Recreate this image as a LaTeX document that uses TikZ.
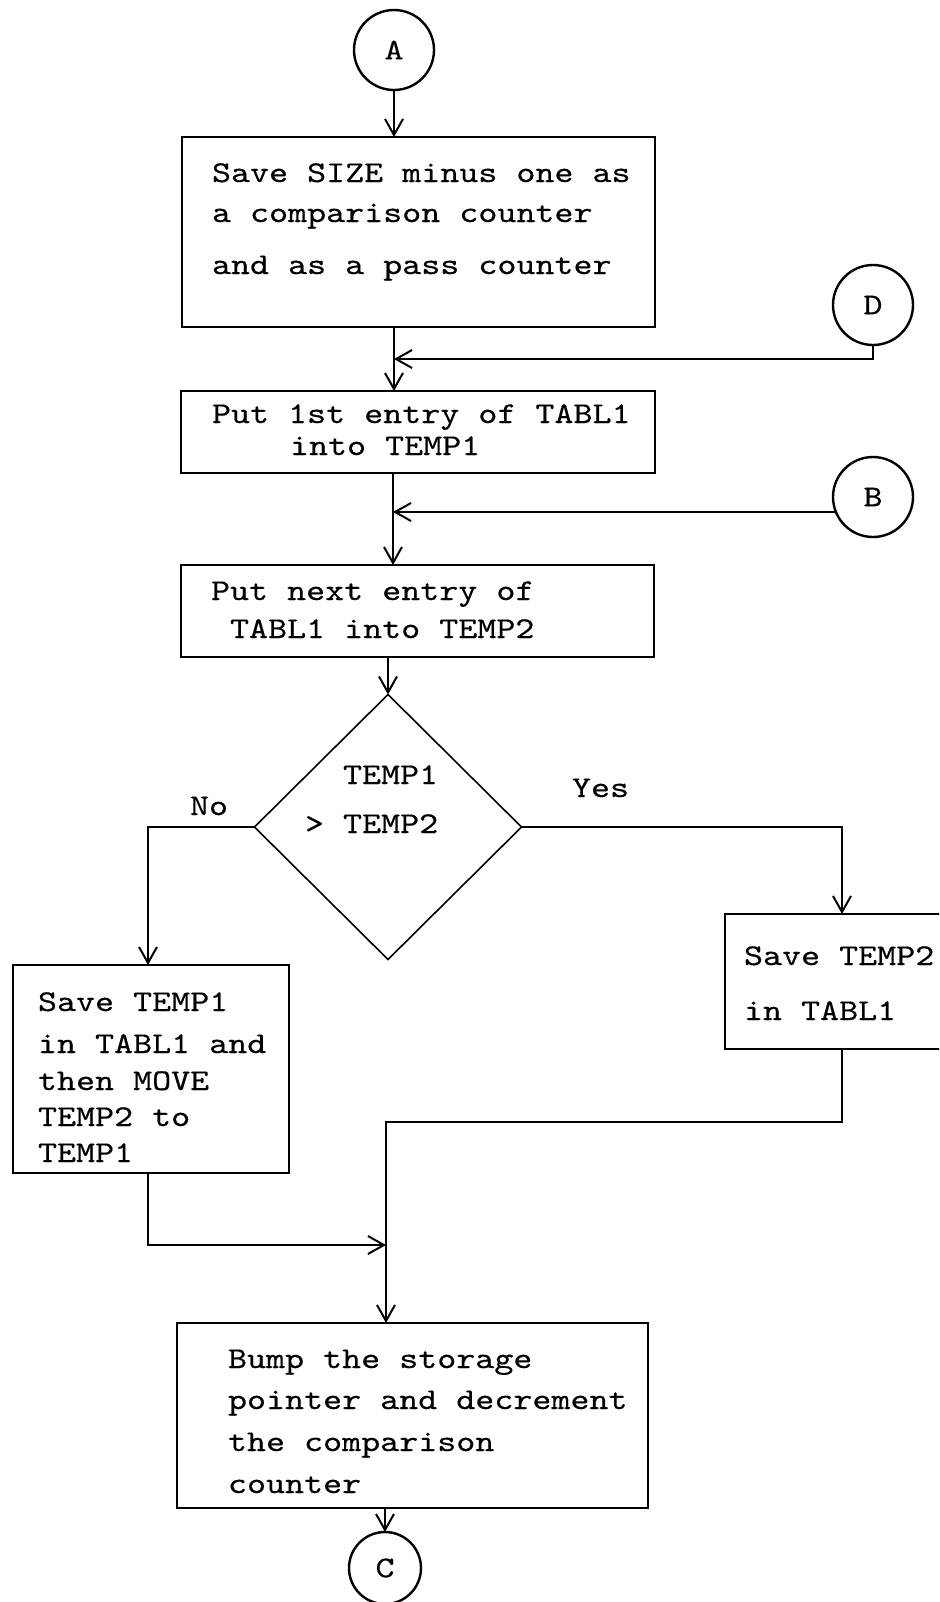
\documentclass[tikz,border=0pt]{standalone}
\usepackage{fontspec}
\setmonofont{lmmono10-regular.otf}[FakeStretch=1.2,FakeBold=0.35]
\usetikzlibrary{shapes.geometric,arrows.meta}
\tikzset{
  boxnode/.style={draw,line width=1.3pt,rectangle,inner sep=0pt,outer sep=0pt},
  conn/.style={draw,line width=1.2pt,circle,inner sep=0pt,outer sep=0pt,font=\ttfamily\fontsize{15.1}{18}\selectfont},
  lbl/.style={anchor=base west,inner sep=0pt,outer sep=0pt,font=\ttfamily\fontsize{15.1}{18}\selectfont},
  arr/.style={line width=1pt,-{Straight Barb[length=8pt,width=9pt,line width=1pt]}},
  ln/.style={line width=1pt}
}
\begin{document}
\begin{tikzpicture}[x=0.5pt,y=-0.5pt]
\useasboundingbox (0,0) rectangle (939,1602);
\clip (0,0) rectangle (939,1602);
% connectors (circles)
\node[conn,minimum size=40pt] (A) at (394,50) {A};
\node[conn,minimum size=40pt] (D) at (873,305) {D};
\node[conn,minimum size=40pt] (B) at (873,497) {B};
\node[conn,minimum size=36pt] (C) at (385,1568) {C};
% boxes
\node[boxnode,minimum width=236.5pt,minimum height=95pt] (box1) at (418.5,232) {};
\node[boxnode,minimum width=237pt,minimum height=41pt] (box2) at (418,432) {};
\node[boxnode,minimum width=236.5pt,minimum height=46pt] (box3) at (417.5,611) {};
\node[boxnode,minimum width=138pt,minimum height=104pt] (box4) at (151,1069) {};
\node[boxnode,minimum width=117.5pt,minimum height=67.5pt] (box5) at (842.5,981.5) {};
\node[boxnode,minimum width=235.5pt,minimum height=92.5pt] (box6) at (412.5,1415.5) {};
\node[draw,diamond,line width=0.8pt,inner sep=0pt,outer sep=0pt,minimum width=133.5pt,minimum height=132.5pt] (dia) at (388,827) {};
% texts
\node[lbl] (t1a) at (212,182) {Save SIZE minus one as};
\node[lbl] (t1b) at (212,222) {a comparison counter};
\node[lbl] (t1c) at (212,274) {and as a pass counter};
\node[lbl] (t2a) at (212,423) {Put 1st entry of TABL1};
\node[lbl] (t2b) at (290,455) {into TEMP1};
\node[lbl] (t3a) at (211,600) {Put next entry of};
\node[lbl] (t3b) at (230,638) {TABL1 into TEMP2};
\node[lbl] (tda) at (343,784) {TEMP1};
\node[lbl] (tdb) at (305,833) {> TEMP2};
\node[lbl] (tno) at (190,815) {No};
\node[lbl] (tyes) at (572,797) {Yes};
\node[lbl] (t4a) at (38,1011) {Save TEMP1};
\node[lbl] (t4b) at (38,1053) {in TABL1 and};
\node[lbl] (t4c) at (38,1090) {then MOVE};
\node[lbl] (t4d) at (38,1126) {TEMP2 to};
\node[lbl] (t4e) at (38,1162) {TEMP1};
\node[lbl] (t5a) at (744,965) {Save TEMP2};
\node[lbl] (t5b) at (744,1020) {in TABL1};
\node[lbl] (t6a) at (228,1368) {Bump the storage};
\node[lbl] (t6b) at (228,1409) {pointer and decrement};
\node[lbl] (t6c) at (228,1451) {the comparison};
\node[lbl] (t6d) at (228,1493) {counter};
% junction coordinates
\coordinate (j1) at (394,359);
\coordinate (j2) at (393,512);
\coordinate (nx) at (148,0);
\coordinate (yx) at (842,0);
\coordinate (m1) at (386,1122);
\coordinate (m2) at (386,1245);
% flow lines
\draw[arr] (A.south) -- (A.south |- box1.north);
\draw[arr] (box1.south -| j1) -- (box2.north -| j1);
\draw[arr] (D.south) |- (j1);
\draw[arr] (box2.south -| j2) -- (box3.north -| j2);
\draw[arr] (B.202) -- (j2 |- B.202);
\draw[arr] (box3.south -| dia.north) -- (dia.north);
\draw[arr] (dia.west) -| (box4.north -| nx);
\draw[arr] (dia.east) -| (box5.north -| yx);
\draw[arr] (box5.south -| yx) |- (m1) -- (box6.north -| m1);
\draw[arr] (box4.south -| nx) |- (m2);
\draw[arr] (box6.south -| C.north) -- (C.north);
\end{tikzpicture}
\end{document}
